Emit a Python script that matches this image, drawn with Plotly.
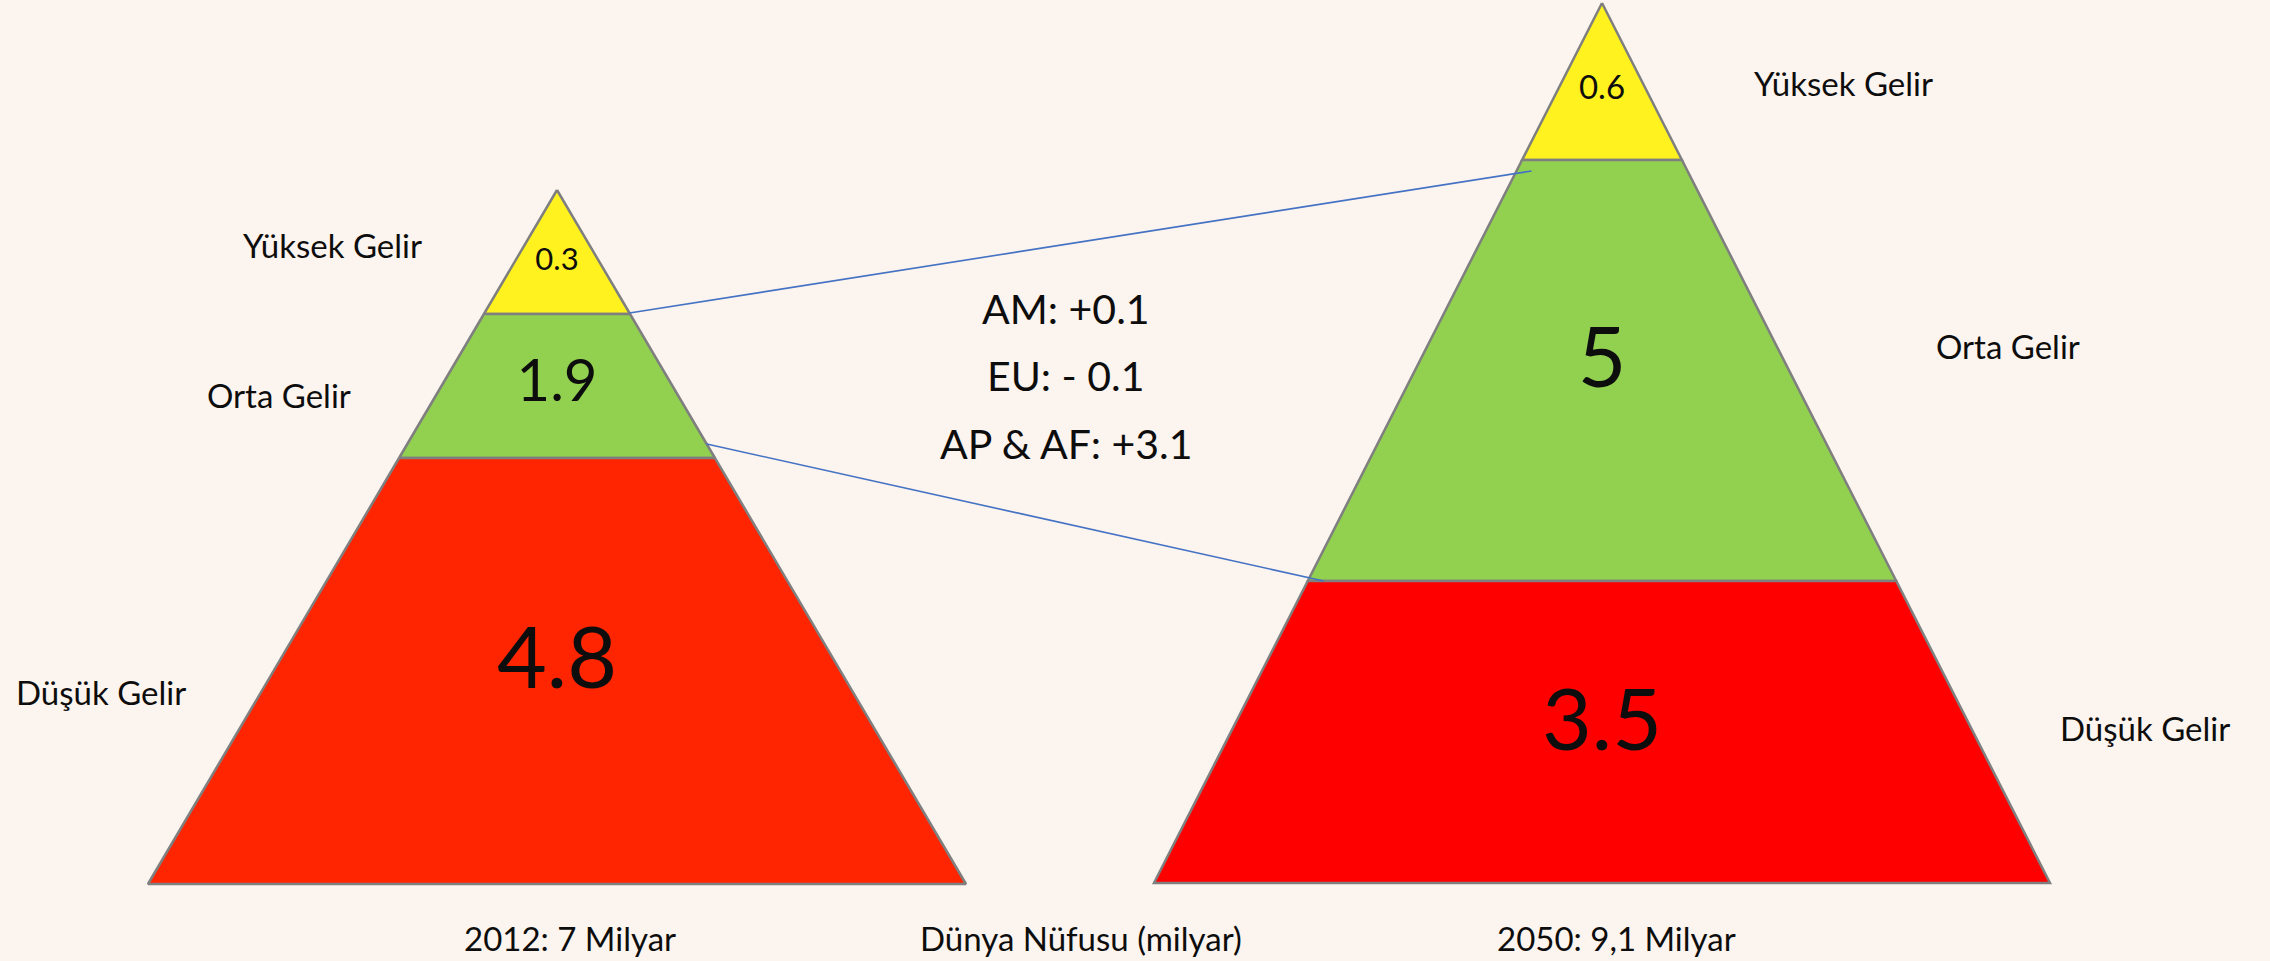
import plotly.graph_objects as go

# ---------------- data ----------------
levels = ["Yüksek Gelir", "Orta Gelir", "Düşük Gelir"]
pop_2012 = [0.3, 1.9, 4.8]
pop_2050 = [0.6, 5, 3.5]
panel_titles = ["2012: 7 Milyar", "2050: 9,1 Milyar"]
center_title = "Dünya Nüfusu (milyar)"
change_labels = ["AM: +0.1", "EU: - 0.1", "AP & AF: +3.1"]

# ---------------- geometry / style (canvas pixel space) ----------------
W, H = 2270, 961
BG = "#FCF4EE"
FONT = "Lato"
TXT = "#0D0D0D"
OUTLINE = "#7F7F7F"
LABEL_SIZE = 33

PYR = [
    dict(values=pop_2012, apex=(557, 190), base_y=884, half=409, bounds=[314, 458],
         colors=["#FFF21F", "#92D050", "#FF2500"], vsizes=[31, 58, 86],
         vfrac=[0.58, 0.5, 0.49],
         label_pos=[(332, 245), (279, 395), (101, 692)], title_x=570),
    dict(values=pop_2050, apex=(1602, 3), base_y=883, half=448, bounds=[160, 581],
         colors=["#FFF21F", "#92D050", "#FF0000"], vsizes=[33, 84, 86],
         vfrac=[0.56, 0.49, 0.49],
         label_pos=[(1843, 83), (2008, 346), (2145, 728)], title_x=1616),
]
TITLE_Y = 938
CENTER_TITLE_X = 1081
CHANGE_X = 1066
CHANGE_Y = [308, 375, 443]
CONNECTORS = [dict(y0=313, y1=171, inset=15), dict(y0=444, y1=581, inset=16)]


def x_at(p, y, side):
    ax, ay = p["apex"]
    t = (y - ay) / (p["base_y"] - ay)
    return ax + side * t * p["half"]


fig = go.Figure()
annotations = []

for p in PYR:
    ax, ay = p["apex"]
    ys = [ay] + p["bounds"] + [p["base_y"]]
    tx, ty = [], []
    for i, (lvl, val) in enumerate(zip(levels, p["values"])):
        top, bot = ys[i], ys[i + 1]
        xs = [x_at(p, top, -1), x_at(p, top, 1), x_at(p, bot, 1), x_at(p, bot, -1), x_at(p, top, -1)]
        yy = [top, top, bot, bot, top]
        fig.add_trace(go.Scatter(
            x=xs, y=yy, mode="lines", fill="toself", fillcolor=p["colors"][i],
            line=dict(color=OUTLINE, width=2.5), hoverinfo="text",
            text=f"{lvl}: {val}", showlegend=False))
        tx.append(ax)
        ty.append(top + p["vfrac"][i] * (bot - top))
        lx, ly = p["label_pos"][i]
        annotations.append(dict(x=lx, y=ly, text=lvl, showarrow=False,
                                font=dict(family=FONT, size=LABEL_SIZE, color=TXT),
                                xanchor="center", yanchor="middle"))
    fig.add_trace(go.Scatter(
        x=tx, y=ty, mode="text", text=[str(v) for v in p["values"]],
        textposition="middle center",
        textfont=dict(family=FONT, size=p["vsizes"], color=TXT),
        hoverinfo="skip", showlegend=False))

for p, t in zip(PYR, panel_titles):
    annotations.append(dict(x=p["title_x"], y=TITLE_Y, text=t, showarrow=False,
                            font=dict(family=FONT, size=LABEL_SIZE, color=TXT),
                            xanchor="center", yanchor="middle"))
annotations.append(dict(x=CENTER_TITLE_X, y=TITLE_Y, text=center_title, showarrow=False,
                        font=dict(family=FONT, size=LABEL_SIZE, color=TXT),
                        xanchor="center", yanchor="middle"))
for lab, y in zip(change_labels, CHANGE_Y):
    annotations.append(dict(x=CHANGE_X, y=y, text=lab, showarrow=False,
                            font=dict(family=FONT, size=41, color=TXT),
                            xanchor="center", yanchor="middle"))

shapes = []
L, R = PYR
for c in CONNECTORS:
    shapes.append(dict(type="line", xref="x", yref="y",
                       x0=x_at(L, c["y0"], 1), y0=c["y0"],
                       x1=x_at(R, c["y1"], -1) + c["inset"], y1=c["y1"],
                       line=dict(color="#4472C4", width=1.6), layer="above"))

fig.update_layout(
    width=W, height=H, margin=dict(l=0, r=0, t=0, b=0, pad=0),
    paper_bgcolor=BG, plot_bgcolor=BG, showlegend=False,
    xaxis=dict(range=[0, W], visible=False, fixedrange=True),
    yaxis=dict(range=[H, 0], visible=False, fixedrange=True),
    annotations=annotations, shapes=shapes,
)

fig.write_html("out.html", config={"displayModeBar": False},
               post_script="document.body.style.margin='0';document.body.style.overflow='hidden';"
                           "document.body.style.backgroundColor='#FCF4EE';")
